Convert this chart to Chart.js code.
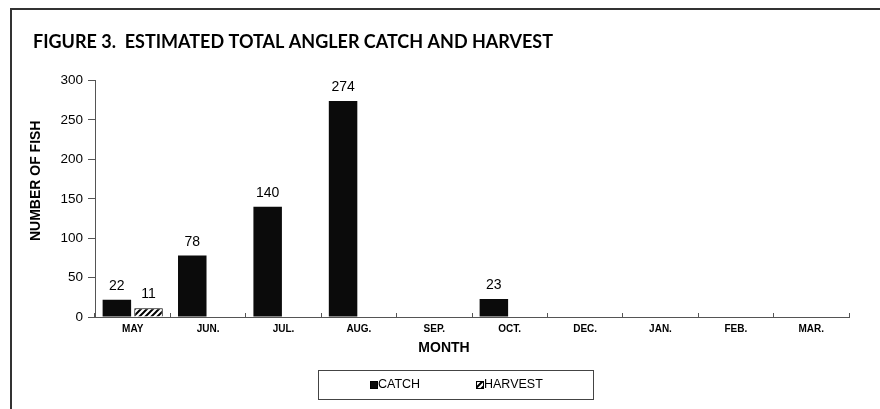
<!DOCTYPE html>
<html>
<head>
<meta charset="utf-8">
<script src="https://cdn.jsdelivr.net/npm/chart.js@4.4.0/dist/chart.umd.min.js"></script>
<style>
  html, body { margin: 0; padding: 0; background: #fff; }
  #wrap { position: relative; width: 880px; height: 409px; overflow: hidden; }
  #frame { position: absolute; left: 10px; top: 8px; width: 900px; height: 420px;
           border-left: 2px solid #333; border-top: 2px solid #333; }
  #chart { position: absolute; left: 0; top: 0; }
</style>
</head>
<body>
<div id="wrap">
  <div id="frame"></div>
  <canvas id="chart" width="880" height="409"></canvas>
</div>
<script>
const months = ['MAY', 'JUN.', 'JUL.', 'AUG.', 'SEP.', 'OCT.', 'DEC.', 'JAN.', 'FEB.', 'MAR.'];
const catchFish = [22, 78, 140, 274, null, 23, null, null, null, null];
const harvestFish = [11, null, null, null, null, null, null, null, null, null];
const yTicks = [0, 50, 100, 150, 200, 250, 300];

const titleText = 'FIGURE 3.  ESTIMATED TOTAL ANGLER CATCH AND HARVEST';
const xTitle = 'MONTH';
const yTitle = 'NUMBER OF FISH';

function makeHatch() {
    const c = document.createElement('canvas');
    c.width = 6;
    c.height = 6;
    const g = c.getContext('2d');
    g.fillStyle = '#fff';
    g.fillRect(0, 0, 6, 6);
    g.strokeStyle = '#000';
    g.lineWidth = 2;
    g.beginPath();
    g.moveTo(0, 6); g.lineTo(6, 0);
    g.moveTo(-3, 3); g.lineTo(3, -3);
    g.moveTo(3, 9); g.lineTo(9, 3);
    g.stroke();
    return g.createPattern(c, 'repeat');
}

// value labels, axis titles and the boxed legend
const extras = {
    id: 'extras',
    afterDatasetsDraw(chart) {
        const ctx = chart.ctx;
        ctx.save();
        ctx.font = '14px Arial, "Liberation Sans"';
        ctx.fillStyle = '#000';
        ctx.textAlign = 'center';
        ctx.textBaseline = 'alphabetic';
        chart.data.datasets.forEach((ds, i) => {
            chart.getDatasetMeta(i).data.forEach((bar, j) => {
                if (ds.data[j] == null) return;
                ctx.fillText(ds.data[j], bar.x, bar.y - 10);
            });
        });
        ctx.restore();
    },
    afterDraw(chart) {
        const ctx = chart.ctx;
        const area = chart.chartArea;
        ctx.save();
        ctx.fillStyle = '#000';
        ctx.textAlign = 'center';
        ctx.textBaseline = 'middle';

        ctx.font = 'bold 14px Arial, "Liberation Sans"';
        ctx.fillText(xTitle, chart.width / 2 + 4, area.bottom + 31);

        ctx.save();
        ctx.translate(36, (area.top + area.bottom) / 2 - 18);
        ctx.rotate(-Math.PI / 2);
        ctx.font = 'bold 14px Arial, "Liberation Sans"';
        ctx.fillText(yTitle, 0, 0);
        ctx.restore();

        // legend box
        const bx = 318.5, by = 370.5, bw = 275, bh = 29;
        ctx.strokeStyle = '#444';
        ctx.lineWidth = 1;
        ctx.strokeRect(bx, by, bw, bh);
        const itemX = [370, 476];
        ctx.font = '12.5px Arial, "Liberation Sans"';
        ctx.textAlign = 'left';
        chart.data.datasets.forEach((ds, i) => {
            const x = itemX[i];
            const y = by + bh / 2;
            ctx.fillStyle = ds.backgroundColor;
            ctx.fillRect(x, y - 4, 8, 8);
            ctx.strokeStyle = '#000';
            ctx.strokeRect(x + 0.5, y - 3.5, 7, 7);
            ctx.fillStyle = '#000';
            ctx.fillText(ds.label, x + 8, y);
        });
        ctx.restore();
    }
};

function setupChart() {
    const ctx = document.getElementById('chart').getContext('2d');
    new Chart(ctx, {
        type: 'bar',
        data: {
            labels: months,
            datasets: [{
                label: 'CATCH',
                data: catchFish,
                backgroundColor: '#0b0b0b',
                borderWidth: 0
            }, {
                label: 'HARVEST',
                data: harvestFish,
                backgroundColor: makeHatch(),
                borderColor: '#000',
                borderWidth: 1
            }]
        },
        options: {
            responsive: false,
            animation: false,
            categoryPercentage: 0.84,
            barPercentage: 0.9,
            layout: { padding: { left: 33, right: 31, top: 0, bottom: 0 } },
            plugins: {
                legend: { display: false },
                tooltip: { enabled: false },
                title: {
                    display: true,
                    text: titleText,
                    align: 'start',
                    color: '#000',
                    font: { family: 'Lato, "Open Sans"', size: 18, weight: 'bold' },
                    padding: { top: 31, bottom: 28 }
                }
            },
            scales: {
                x: {
                    afterFit(scale) { scale.height = 92; },
                    grid: {
                        offset: true,
                        drawOnChartArea: false,
                        tickLength: -4,
                        color: '#555'
                    },
                    border: { color: '#555', width: 1 },
                    ticks: {
                        color: '#000',
                        padding: 10,
                        font: { family: 'Arial, "Liberation Sans"', size: 10, weight: 'bold' }
                    }
                },
                y: {
                    min: 0,
                    max: 300,
                    afterFit(scale) { scale.width = 62; },
                    afterBuildTicks(scale) { scale.ticks = yTicks.map(v => ({ value: v })); },
                    grid: {
                        drawOnChartArea: false,
                        tickLength: 7,
                        color: '#555'
                    },
                    border: { color: '#555', width: 1 },
                    ticks: {
                        color: '#000',
                        padding: 5,
                        font: { family: 'Arial, "Liberation Sans"', size: 13.5 }
                    }
                }
            }
        },
        plugins: [extras]
    });
}

setupChart();
</script>
</body>
</html>
